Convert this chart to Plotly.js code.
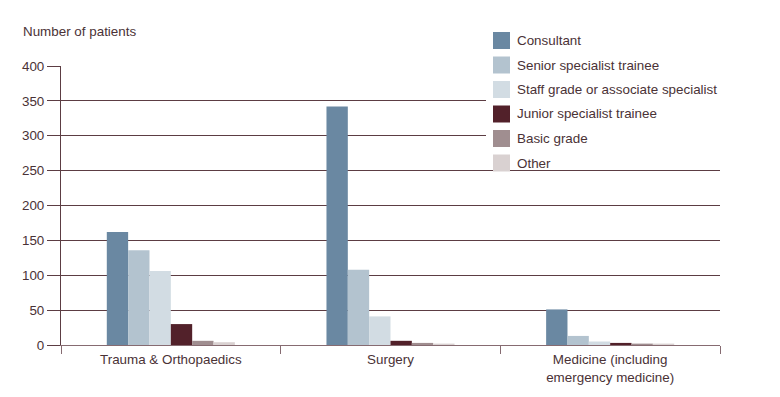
<!DOCTYPE html>
<html><head><meta charset="utf-8">
<script src="https://cdn.plot.ly/plotly-3.0.1.min.js"></script>
<style>html,body{margin:0;padding:0;background:#fff}#chart{width:780px;height:397px}</style>
</head><body><div id="chart"></div>
<script>
const categories = ["Trauma & Orthopaedics", "Surgery", "Medicine (including<br>emergency medicine)"];
const seriesNames = ["Consultant", "Senior specialist trainee", "Staff grade or associate specialist", "Junior specialist trainee", "Basic grade", "Other"];
const consultant = [162, 342, 51];
const seniorTrainee = [136, 108, 13];
const staffGrade = [106, 41, 5];
const juniorTrainee = [30, 6, 3];
const basicGrade = [6, 3, 2];
const other = [4, 2, 2];
const yTicks = [0, 50, 100, 150, 200, 250, 300, 350, 400];
const yTitle = "Number of patients";

const seriesValues = [consultant, seniorTrainee, staffGrade, juniorTrainee, basicGrade, other];
const colors = ["#6a88a2", "#b3c3cf", "#d2dce3", "#52212a", "#a08e90", "#d9d1d1"];
const textColor = "#4a3236";
const gridColor = "#5c3d43";
const fs = 13.4;

const W = 780, H = 397, L = 61, R = 60, T = 66, B = 52;
const pw = W - L - R, ph = H - T - B;
const px = x => (x - L) / pw;
const py = y => (H - B - y) / ph;

const traces = seriesNames.map((n, i) => ({
  type: "bar", name: n, x: categories, y: seriesValues[i],
  marker: {color: colors[i], line: {width: 0}}, showlegend: false, hoverinfo: "none"
}));

const shapes = [{type: "rect", xref: "paper", yref: "paper", layer: "above",
  x0: px(486), x1: px(722), y0: py(28), y1: py(168), fillcolor: "#ffffff", line: {width: 0}}];
const annotations = [{xref: "paper", yref: "paper", x: px(21), y: py(31), xanchor: "left", yanchor: "middle",
  text: yTitle, showarrow: false, font: {size: fs, color: textColor}}];
seriesNames.forEach((n, i) => {
  const cy = 40.5 + i * 24.5;
  shapes.push({type: "rect", xref: "paper", yref: "paper", layer: "above",
    x0: px(493), x1: px(510), y0: py(cy - 8.5), y1: py(cy + 8.5), fillcolor: colors[i], line: {width: 0}});
  annotations.push({xref: "paper", yref: "paper", x: px(515), y: py(cy), xanchor: "left", yanchor: "middle",
    text: n, showarrow: false, font: {size: fs, color: textColor}});
});

const layout = {
  width: W, height: H,
  margin: {l: L, r: R, t: T, b: B, pad: 0},
  paper_bgcolor: "#fff", plot_bgcolor: "#fff",
  font: {family: "Liberation Sans, Arial, sans-serif", size: fs, color: textColor},
  barmode: "group", bargap: 0.417, bargroupgap: 0,
  xaxis: {showline: true, linecolor: "#866b71", linewidth: 1, ticks: "outside", tickson: "boundaries",
    ticklen: 8, tickcolor: "#866b71", tickwidth: 1, showgrid: false, zeroline: false,
    ticklabelstandoff: 2,
    tickfont: {size: fs, color: textColor}, fixedrange: true},
  yaxis: {range: [0, 400], tickvals: yTicks, ticktext: yTicks.map(String), showgrid: true,
    gridcolor: gridColor, gridwidth: 1, zeroline: false, showline: true, linecolor: gridColor, linewidth: 1,
    ticks: "outside", ticklen: 13, tickcolor: gridColor, tickwidth: 1,
    tickfont: {size: fs, color: textColor}, fixedrange: true},
  shapes: shapes, annotations: annotations
};
Plotly.newPlot("chart", traces, layout, {displayModeBar: false, staticPlot: true});
</script></body></html>
